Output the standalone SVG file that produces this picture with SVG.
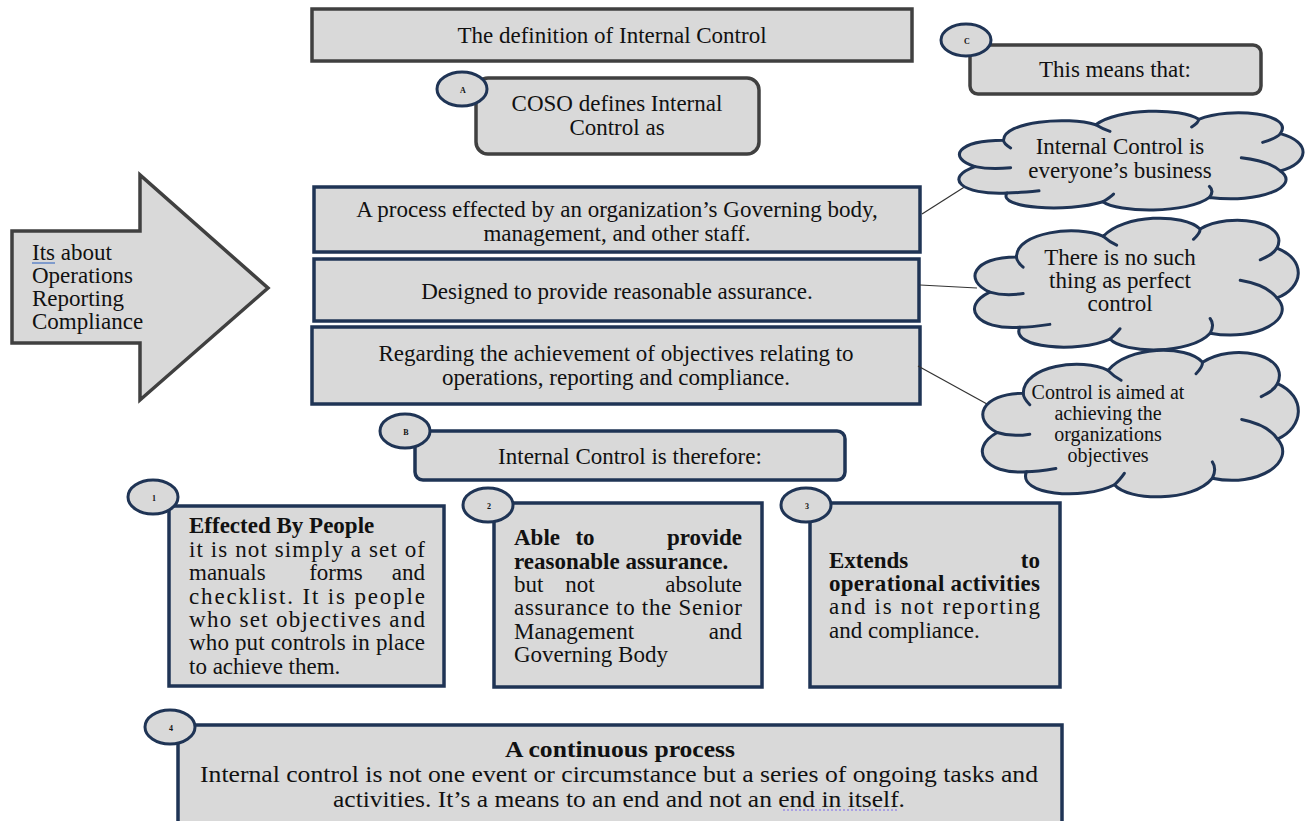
<svg xmlns="http://www.w3.org/2000/svg" width="1314" height="821" viewBox="0 0 1314 821">
<style>
text{font-family:"Liberation Serif","Times New Roman",serif;fill:#111;}
.t19{font-size:23px;}
.t18{font-size:23px;}
.t16{font-size:20px;}
.c{text-anchor:middle;}
.e{text-anchor:end;}
.b{font-weight:bold;}
.gbox{fill:#d9d9d9;stroke:#404040;stroke-width:3.5;}
.nbox{fill:#d9d9d9;stroke:#1f3455;stroke-width:3.5;}
.circ{fill:#d9d9d9;stroke:#1f3455;stroke-width:3;}
.cloud{fill:#d9d9d9;stroke:#1f3455;stroke-width:3;stroke-linejoin:round;}
.cin{fill:none;stroke:#1f3455;stroke-width:3;stroke-linecap:round;}
.lbl{font-size:8px;font-weight:bold;text-anchor:middle;}
.conn{stroke:#333;stroke-width:1.2;fill:none;}
</style>
<rect width="1314" height="821" fill="#ffffff"/>

<g id="title">
<rect class="gbox" x="312" y="9" width="600" height="52"/>
<text class="t19 c" x="612" y="43">The definition of Internal Control</text>
</g>

<g id="nodeA">
<rect class="gbox" x="476" y="78" width="283" height="76" rx="12"/>
<ellipse class="circ" cx="462" cy="89" rx="25" ry="17"/>
<text class="lbl" x="463" y="93">A</text>
<text class="t19 c" x="617" y="111">COSO defines Internal</text>
<text class="t19 c" x="617" y="135">Control as</text>
</g>

<g id="nodeC">
<rect class="gbox" x="970" y="45" width="291" height="49" rx="8"/>
<ellipse class="circ" cx="966" cy="40" rx="25" ry="16"/>
<text class="lbl" x="967" y="44">C</text>
<text class="t19 c" x="1115" y="77">This means that:</text>
</g>

<g id="arrow">
<polygon class="gbox" points="12,231 140,231 140,175 268,288 140,400 140,343 12,343"/>
<text class="t19" x="32" y="260">Its about</text>
<line x1="32" y1="263" x2="55" y2="263" stroke="#4472c4" stroke-width="1.2"/>
<text class="t19" x="32" y="283">Operations</text>
<text class="t19" x="32" y="306">Reporting</text>
<text class="t19" x="32" y="329">Compliance</text>
</g>

<g id="def1">
<rect class="nbox" x="314" y="187" width="606" height="65"/>
<text class="t19 c" x="617" y="217">A process effected by an organization’s Governing body,</text>
<text class="t19 c" x="617" y="241">management, and other staff.</text>
</g>

<g id="def2">
<rect class="nbox" x="314" y="259" width="605" height="62"/>
<text class="t19 c" x="617" y="299">Designed to provide reasonable assurance.</text>
</g>

<g id="def3">
<rect class="nbox" x="312" y="327" width="608" height="77"/>
<text class="t19 c" x="616" y="361">Regarding the achievement of objectives relating to</text>
<text class="t19 c" x="616" y="385">operations, reporting and compliance.</text>
</g>

<g id="connectors">
<line class="conn" x1="922" y1="214" x2="966" y2="186"/>
<line class="conn" x1="920" y1="285" x2="977" y2="288"/>
<line class="conn" x1="918" y1="366" x2="987" y2="404"/>
<line x1="511" y1="797" x2="511" y2="821" stroke="#111" stroke-width="1"/>
</g>

<g id="cloud1">
<path class="cloud" vector-effect="non-scaling-stroke" transform="translate(946.7,102.8) scale(3.55,1.1)" d="M8,58 C0,50 3,34 16,34 C16,17 34,12 42,20 C48,5 66,4 71,15 C80,3 98,10 94,28 C103,36 102,55 94,62 C100,76 88,92 74,86 C68,101 48,100 44,90 C34,100 14,96 17,82 C4,84 -1,68 8,58 Z"/>
<path class="cin" vector-effect="non-scaling-stroke" transform="translate(946.7,102.8) scale(3.55,1.1)" d="M8,58 C11,60 15,60 18,59 M16,34 C16,37 17,39 18,41 M42,20 C43,22 44,24 46,26 M71,15 C71,18 70,20 69,22 M94,28 C93,32 91,34 89,36 M94,62 C92,56 88,52 83,50 M74,86 C75,82 75,79 74,76 M44,90 C45,88 46,86 47,83 M17,82 C20,82 23,81 26,80"/>
<text class="t18 c" x="1120" y="154">Internal Control is</text>
<text class="t18 c" x="1120" y="178">everyone’s business</text>
</g>

<g id="cloud2">
<path class="cloud" vector-effect="non-scaling-stroke" transform="translate(963,207) scale(3.34,1.467)" d="M8,58 C0,50 3,34 16,34 C16,17 34,12 42,20 C48,5 66,4 71,15 C80,3 98,10 94,28 C103,36 102,55 94,62 C100,76 88,92 74,86 C68,101 48,100 44,90 C34,100 14,96 17,82 C4,84 -1,68 8,58 Z"/>
<path class="cin" vector-effect="non-scaling-stroke" transform="translate(963,207) scale(3.34,1.467)" d="M8,58 C11,60 15,60 18,59 M16,34 C16,37 17,39 18,41 M42,20 C43,22 44,24 46,26 M71,15 C71,18 70,20 69,22 M94,28 C93,32 91,34 89,36 M94,62 C92,56 88,52 83,50 M74,86 C75,82 75,79 74,76 M44,90 C45,88 46,86 47,83 M17,82 C20,82 23,81 26,80"/>
<text class="t18 c" x="1120" y="265">There is no such</text>
<text class="t18 c" x="1120" y="288">thing as perfect</text>
<text class="t18 c" x="1120" y="311">control</text>
</g>

<g id="cloud3">
<path class="cloud" vector-effect="non-scaling-stroke" transform="translate(971.1,337.8) scale(3.26,1.633)" d="M8,58 C0,50 3,34 16,34 C16,17 34,12 42,20 C48,5 66,4 71,15 C80,3 98,10 94,28 C103,36 102,55 94,62 C100,76 88,92 74,86 C68,101 48,100 44,90 C34,100 14,96 17,82 C4,84 -1,68 8,58 Z"/>
<path class="cin" vector-effect="non-scaling-stroke" transform="translate(971.1,337.8) scale(3.26,1.633)" d="M8,58 C11,60 15,60 18,59 M16,34 C16,37 17,39 18,41 M42,20 C43,22 44,24 46,26 M71,15 C71,18 70,20 69,22 M94,28 C93,32 91,34 89,36 M94,62 C92,56 88,52 83,50 M74,86 C75,82 75,79 74,76 M44,90 C45,88 46,86 47,83 M17,82 C20,82 23,81 26,80"/>
<text class="t16 c" x="1108" y="399">Control is aimed at</text>
<text class="t16 c" x="1108" y="420">achieving the</text>
<text class="t16 c" x="1108" y="441">organizations</text>
<text class="t16 c" x="1108" y="462">objectives</text>
</g>

<g id="nodeB">
<rect class="nbox" x="415" y="431" width="430" height="49" rx="8"/>
<ellipse class="circ" cx="405" cy="431" rx="25" ry="17"/>
<text class="lbl" x="406" y="435">B</text>
<text class="t19 c" x="630" y="464">Internal Control is therefore:</text>
</g>

<g id="item1">
<rect class="nbox" x="169" y="506" width="275" height="180"/>
<ellipse class="circ" cx="153" cy="497" rx="25" ry="17"/>
<text class="lbl" x="154" y="501">1</text>
<text class="t19 b" x="189" y="533">Effected By People</text>
<text class="t19" x="189" y="557" textLength="236" lengthAdjust="spacing">it is not simply a set of</text>
<text class="t19" x="189" y="580">manuals</text>
<text class="t19 c" x="336" y="580">forms</text>
<text class="t19 e" x="425" y="580">and</text>
<text class="t19" x="189" y="604" textLength="236" lengthAdjust="spacing">checklist. It is people</text>
<text class="t19" x="189" y="627" textLength="236" lengthAdjust="spacing">who set objectives and</text>
<text class="t19" x="189" y="650" textLength="236" lengthAdjust="spacing">who put controls in place</text>
<text class="t19" x="189" y="674">to achieve them.</text>
</g>

<g id="item2">
<rect class="nbox" x="494" y="503" width="268" height="184"/>
<ellipse class="circ" cx="488" cy="505" rx="25" ry="17"/>
<text class="lbl" x="489" y="509">2</text>
<text class="t19 b" x="514" y="545">Able</text>
<text class="t19 b c" x="585" y="545">to</text>
<text class="t19 b e" x="742" y="545">provide</text>
<text class="t19 b" x="514" y="569">reasonable assurance.</text>
<text class="t19" x="514" y="592">but</text>
<text class="t19 c" x="580" y="592">not</text>
<text class="t19 e" x="742" y="592">absolute</text>
<text class="t19" x="514" y="615" textLength="228" lengthAdjust="spacing">assurance to the Senior</text>
<text class="t19" x="514" y="639">Management</text>
<text class="t19 e" x="742" y="639">and</text>
<text class="t19" x="514" y="662">Governing Body</text>
</g>

<g id="item3">
<rect class="nbox" x="810" y="503" width="250" height="184"/>
<ellipse class="circ" cx="806" cy="505" rx="25" ry="17"/>
<text class="lbl" x="807" y="509">3</text>
<text class="t19 b" x="829" y="568">Extends</text>
<text class="t19 b e" x="1040" y="568">to</text>
<text class="t19 b" x="829" y="591" textLength="211" lengthAdjust="spacing">operational activities</text>
<text class="t19" x="829" y="614" textLength="211" lengthAdjust="spacing">and is not reporting</text>
<text class="t19" x="829" y="638">and compliance.</text>
</g>

<g id="item4">
<rect class="nbox" x="178" y="725" width="884" height="110"/>
<ellipse class="circ" cx="170" cy="727" rx="25" ry="17"/>
<text class="lbl" x="171" y="731">4</text>
<text class="b c" style="font-size:23px" x="620" y="757" textLength="230" lengthAdjust="spacingAndGlyphs">A continuous process</text>
<text style="font-size:23px" x="200" y="782" textLength="838" lengthAdjust="spacingAndGlyphs">Internal control is not one event or circumstance but a series of ongoing tasks and</text>
<text style="font-size:23px" x="333" y="807" textLength="572" lengthAdjust="spacingAndGlyphs">activities. It’s a means to an end and not an end in itself.</text>
<line x1="783" y1="810" x2="899" y2="810" stroke="#7b68ee" stroke-width="1.2" stroke-dasharray="2,2"/>
</g>
</svg>
